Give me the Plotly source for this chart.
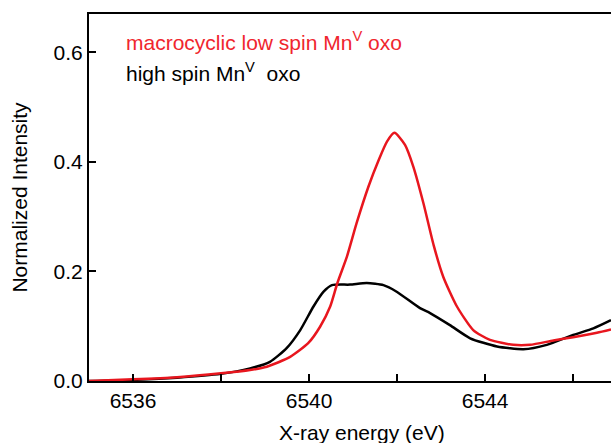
import plotly.graph_objects as go

# Data
energy_low = [6535.0, 6536.0, 6537.0, 6538.0, 6538.66, 6539.04, 6539.57, 6539.98,
              6540.25, 6540.48, 6540.64, 6540.86, 6541.08, 6541.35, 6541.58, 6541.77,
              6541.94, 6542.18, 6542.37, 6542.6, 6542.83, 6543.05, 6543.36, 6543.73,
              6544.11, 6544.64, 6545.02, 6545.55, 6546.0, 6546.54, 6546.86]
intensity_low = [0.0, 0.003, 0.007, 0.014, 0.020, 0.026, 0.044, 0.069,
                 0.099, 0.136, 0.178, 0.227, 0.288, 0.355, 0.403, 0.437,
                 0.453, 0.431, 0.391, 0.324, 0.248, 0.190, 0.136, 0.093,
                 0.075, 0.066, 0.066, 0.074, 0.080, 0.088, 0.094]

energy_high = [6535.0, 6536.0, 6537.0, 6538.0, 6538.66, 6539.11, 6539.49, 6539.8,
               6540.1, 6540.33, 6540.52, 6540.93, 6541.31, 6541.69, 6541.99, 6542.52,
               6542.75, 6543.2, 6543.66, 6544.27, 6544.87, 6545.4, 6546.0, 6546.46,
               6546.86]
intensity_high = [0.0, 0.002, 0.006, 0.013, 0.023, 0.035, 0.060, 0.093,
                  0.136, 0.163, 0.175, 0.176, 0.179, 0.175, 0.163, 0.133,
                  0.124, 0.102, 0.078, 0.063, 0.058, 0.066, 0.084, 0.096,
                  0.111]

name_low = "macrocyclic low spin Mn<sup>V</sup> oxo"
name_high = "high spin Mn<sup>V</sup>  oxo"
x_title = "X-ray energy (eV)"
y_title = "Normalized Intensity"

x_tickvals = [6536, 6538, 6540, 6542, 6544, 6546]
x_ticktext = ["6536", "", "6540", "", "6544", ""]
y_tickvals = [0.0, 0.2, 0.4, 0.6]
y_ticktext = ["0.0", "0.2", "0.4", "0.6"]

RED = "#e8161e"
FONT = "Liberation Sans, Arial, sans-serif"
FS = 21

fig = go.Figure()
fig.add_trace(go.Scatter(x=energy_high, y=intensity_high, mode="lines",
                         line=dict(color="black", width=2.5, shape="spline", smoothing=0.6),
                         name="high", hoverinfo="skip"))
fig.add_trace(go.Scatter(x=energy_low, y=intensity_low, mode="lines",
                         line=dict(color=RED, width=2.5, shape="spline", smoothing=0.6),
                         name="low", hoverinfo="skip"))

fig.add_annotation(x=0.067, y=0.926, xref="paper", yref="paper", text=name_low,
                   showarrow=False, xanchor="left", yanchor="middle",
                   font=dict(family=FONT, size=FS, color="#f0262e"))
fig.add_annotation(x=0.067, y=0.841, xref="paper", yref="paper", text=name_high,
                   showarrow=False, xanchor="left", yanchor="middle",
                   font=dict(family=FONT, size=FS, color="black"))
# x-axis title placed as an annotation below the tick labels
fig.add_annotation(x=0.523, y=-0.139, xref="paper", yref="paper", text=x_title,
                   showarrow=False, xanchor="center", yanchor="middle",
                   font=dict(family=FONT, size=FS, color="black"))

fig.update_layout(
    width=611, height=443,
    margin=dict(l=89, r=0, t=14, b=62),
    paper_bgcolor="white", plot_bgcolor="white",
    showlegend=False,
    font=dict(family=FONT, size=FS, color="black"),
    xaxis=dict(range=[6535.0, 6546.86], tickvals=x_tickvals, ticktext=x_ticktext,
               ticks="inside", ticklen=7, tickwidth=1.5, tickcolor="black",
               showline=True, linecolor="black", linewidth=2, mirror=True,
               showgrid=False, zeroline=False, automargin=False,
               tickfont=dict(family=FONT, size=FS)),
    yaxis=dict(range=[0, 0.67], tickvals=y_tickvals, ticktext=y_ticktext,
               ticks="inside", ticklen=7, tickwidth=1.5, tickcolor="black",
               showline=True, linecolor="black", linewidth=2,
               showgrid=False, zeroline=False, automargin=False,
               tickfont=dict(family=FONT, size=FS),
               title=dict(text=y_title, standoff=20,
                          font=dict(family=FONT, size=FS))),
)

fig.write_html("out.html", config={"displayModeBar": False})

# remove default page margin so the figure sits at the window's top-left
with open("out.html", encoding="utf-8") as f:
    html = f.read()
html = html.replace("<head>", "<head><style>html,body{margin:0;padding:0;overflow:hidden;}</style>", 1)
with open("out.html", "w", encoding="utf-8") as f:
    f.write(html)
